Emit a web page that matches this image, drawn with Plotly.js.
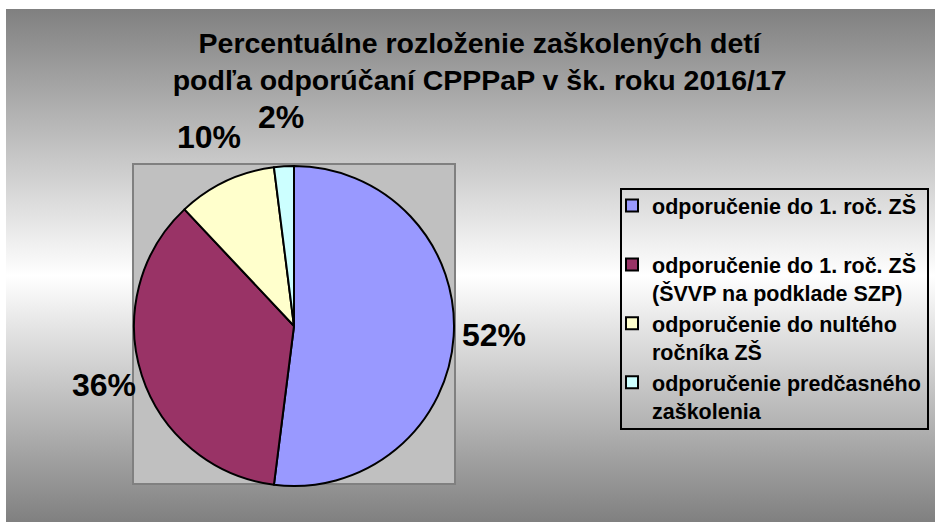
<!DOCTYPE html>
<html>
<head>
<meta charset="utf-8">
<script src="https://cdn.plot.ly/plotly-3.0.1.min.js"></script>
<style>
  html, body { margin: 0; padding: 0; background: #ffffff; }
  #bg { position: absolute; left: 6px; top: 9px; width: 929px; height: 513px;
        background: linear-gradient(to bottom, #808080 0%, #ffffff 52%, #808080 100%); }
  #chart { position: absolute; left: 0; top: 0; width: 935px; height: 522px; }
</style>
</head>
<body>
<div id="bg"></div>
<div id="chart"></div>
<script>
const categories = [
  "odporučenie do 1. roč. ZŠ<br> ",
  "odporučenie do 1. roč. ZŠ<br>(ŠVVP na podklade SZP)",
  "odporučenie do nultého<br>ročníka ZŠ",
  "odporučenie predčasného<br>zaškolenia"
];
const values = [52, 36, 10, 2];
const colors = ["#9999ff", "#993366", "#ffffcc", "#ccffff"];
const titleText = "Percentuálne rozloženie zaškolených detí<br>podľa odporúčaní CPPPaP v šk. roku 2016/17";

const W = 935, H = 522;
const px = v => v / W;
const py = v => 1 - v / H;
const FONT = "Liberation Sans, Arial, sans-serif";

// pie geometry (pixels)
const cx = 294, cy = 326, r = 160;

const trace = {
  type: "pie",
  labels: categories,
  values: values,
  sort: false,
  direction: "clockwise",
  rotation: 0,
  marker: { colors: colors, line: { color: "#000000", width: 2 } },
  textinfo: "none",
  domain: { x: [px(cx - r), px(cx + r)], y: [py(cy + r), py(cy - r)] },
  hoverinfo: "label+percent"
};

// percentage labels placed outside each slice at its mid-angle, computed from the values
const total = values.reduce((a, b) => a + b, 0);
const labelRx = 200, labelRy = 205;
let cum = 0;
const annotations = values.map(v => {
  const mid = (cum + v / 2) / total;
  cum += v;
  const th = 2 * Math.PI * mid;
  return {
    xref: "paper", yref: "paper",
    x: px(cx + labelRx * Math.sin(th)),
    y: py(cy - 4 - labelRy * Math.cos(th)),
    xanchor: "center", yanchor: "middle",
    showarrow: false,
    text: Math.round(100 * v / total) + "%",
    font: { family: FONT, size: 32, color: "#000000", weight: "bold" }
  };
});

const layout = {
  width: W, height: H,
  margin: { l: 0, r: 0, t: 0, b: 0 },
  paper_bgcolor: "rgba(0,0,0,0)",
  plot_bgcolor: "rgba(0,0,0,0)",
  font: { family: FONT, color: "#000000" },
  title: {
    text: titleText,
    font: { family: FONT, size: 28.5, color: "#000000", weight: "bold" },
    x: 0.513, xanchor: "center",
    y: py(53), yanchor: "middle", yref: "container"
  },
  showlegend: true,
  legend: {
    x: px(612), xanchor: "left",
    y: py(185), yanchor: "top",
    bgcolor: "rgba(0,0,0,0)",
    borderwidth: 0,
    valign: "top",
    font: { family: FONT, size: 21.5, color: "#000000", weight: "bold" }
  },
  annotations: annotations,
  shapes: [
    { type: "rect", xref: "paper", yref: "paper", layer: "below",
      x0: px(133), x1: px(455), y0: py(484), y1: py(164),
      fillcolor: "#c0c0c0", line: { color: "#808080", width: 2 } },
    { type: "rect", xref: "paper", yref: "paper", layer: "above",
      x0: px(621), x1: px(928), y0: py(429), y1: py(189),
      fillcolor: "rgba(0,0,0,0)", line: { color: "#000000", width: 2 } }
  ]
};

Plotly.newPlot("chart", [trace], layout, { displayModeBar: false, staticPlot: true });
</script>
</body>
</html>
